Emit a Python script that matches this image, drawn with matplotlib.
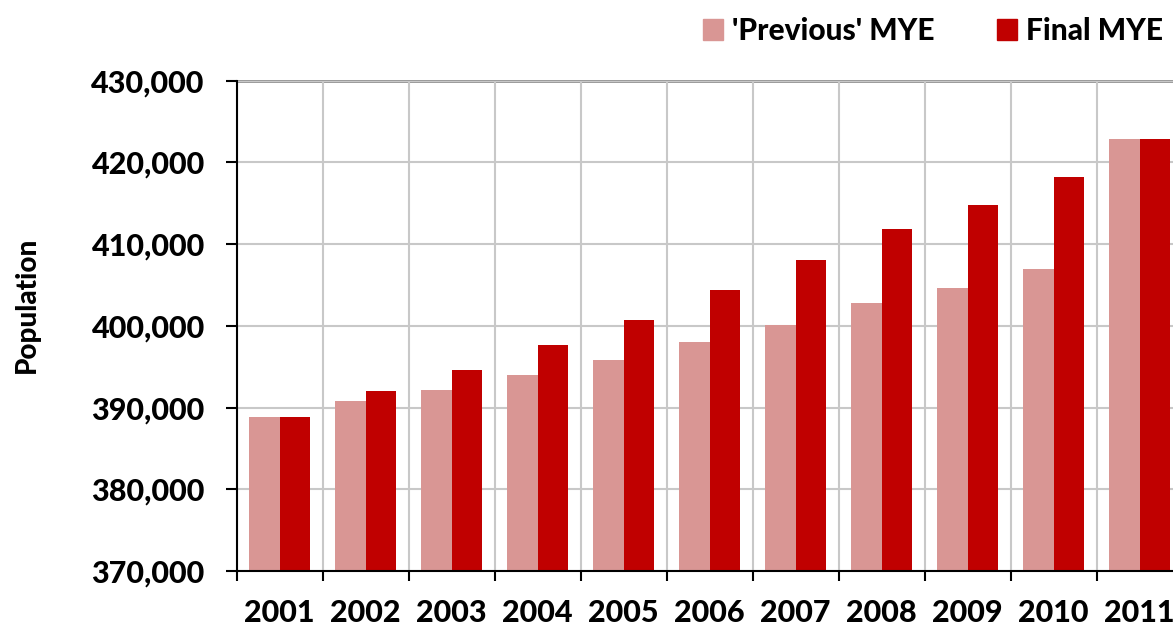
import numpy as np
import matplotlib.pyplot as plt
from matplotlib.patches import Patch
from matplotlib.ticker import FuncFormatter

years = ['2001', '2002', '2003', '2004', '2005', '2006', '2007', '2008', '2009', '2010', '2011']
previous_mye = [388900, 390850, 392100, 393950, 395800, 398050, 400050, 402750, 404600, 407000, 422900]
final_mye = [388900, 392070, 394560, 397630, 400700, 404380, 408020, 411870, 414840, 418260, 422900]

prev_color = '#D99694'
final_color = '#C00000'

plt.rcParams['font.family'] = ['Lato', 'DejaVu Sans']
plt.rcParams['font.weight'] = 'black'

fig = plt.figure(figsize=(11.73, 6.26), dpi=100)
ax = fig.add_axes([0.2018, 0.0879, 0.7982, 0.7832])

x = np.arange(len(years))
w = 0.352
ax.bar(x - w / 2, previous_mye, w, color=prev_color, zorder=3)
ax.bar(x + w / 2, final_mye, w, color=final_color, zorder=3)

ax.set_yticks(np.arange(370000, 430001, 10000))
ax.yaxis.set_major_formatter(FuncFormatter(lambda v, p: f'{int(v):,}'))

ax.set_xticks(x)
ax.set_xticklabels(years)
ax.set_xticks(np.arange(-0.5, len(years), 1), minor=True)
# limits after the ticks, otherwise set_xticks widens them again
ax.set_ylim(370000, 430000)
ax.set_xlim(-0.5, 10.387)

ax.tick_params(axis='x', which='major', length=0, pad=20, labelsize=22)
ax.tick_params(axis='x', which='minor', length=7.5, width=1.5, direction='out')
ax.tick_params(axis='y', length=8, width=1.5, pad=15, labelsize=22)

ax.grid(axis='y', color='#c8c8c8', linewidth=1.5, zorder=0)
ax.grid(axis='x', which='minor', color='#c8c8c8', linewidth=1.5, zorder=0)
ax.axhline(430000, color='#909090', linewidth=2, zorder=1, clip_on=False)

for s in ['top', 'right']:
    ax.spines[s].set_visible(False)
for s in ['left', 'bottom']:
    ax.spines[s].set_linewidth(1.5)
    ax.spines[s].set_color('black')
    ax.spines[s].set_zorder(4)

fig.text(27 / 1173, 1 - 305 / 626, 'Population', rotation=90, ha='center', va='center',
         fontsize=20, fontweight='black')

handles = [Patch(color=prev_color), Patch(color=final_color)]
fig.legend(handles, ["'Previous' MYE", 'Final MYE'], loc='center right',
           bbox_to_anchor=(1163 / 1173, 1 - 31 / 626), ncol=2, frameon=False,
           fontsize=21.5, handlelength=0.67, handleheight=0.67, handletextpad=0.3,
           columnspacing=2.1, borderpad=0, borderaxespad=0)

fig.savefig('out.png', dpi=100)
